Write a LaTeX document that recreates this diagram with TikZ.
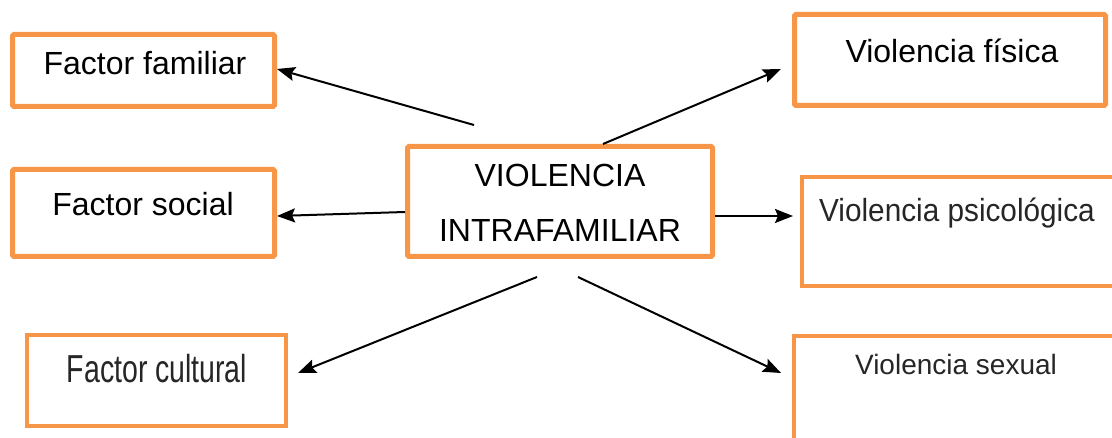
\documentclass[tikz,border=0pt]{standalone}
\usepackage{fontspec}
\setmainfont{Liberation Sans}
\usetikzlibrary{arrows.meta,calc}
\definecolor{boxorange}{RGB}{247,150,70}
\tikzset{
  box/.style={draw=boxorange, line width=5pt, rounded corners=1.5pt, inner sep=0pt},
  thinbox/.style={draw=boxorange, line width=4pt, inner sep=0pt},
  txt/.style={anchor=base, inner sep=0pt, font=\fontsize{32}{38}\selectfont},
  arr/.style={line width=2pt, -{Stealth[length=18pt,width=14pt,inset=3pt]}}
}
\begin{document}
\begin{tikzpicture}[x=1pt, y=-1pt]
        \useasboundingbox (0,0) rectangle (1112,438);
        \clip (0,0) rectangle (1112,438);
        % boxes
        \node (familiar) at (143.5,70.5) [box, minimum width=262pt, minimum height=72pt] {};
        \node (social) at (143.5,213) [box, minimum width=262pt, minimum height=87pt] {};
        \node (central) at (560,201.5) [box, minimum width=305pt, minimum height=110pt] {};
        \node (fisica) at (950,60) [box, minimum width=311pt, minimum height=91pt] {};
        \node (psico) at (960,231.5) [thinbox, minimum width=316pt, minimum height=109pt] {};
        \node (cultural) at (156.5,380.5) [thinbox, minimum width=259pt, minimum height=91pt] {};
        \node (sexual) at (956,389.5) [thinbox, minimum width=324pt, minimum height=107pt] {};
        % texts
        \node (tfamiliar) at (145,75) [txt] {Factor familiar};
        \node (tsocial) at (143,216) [txt] {Factor social};
        \node (tviolencia) at (560,187) [txt] {VIOLENCIA};
        \node (tintra) at (560,242) [txt] {INTRAFAMILIAR};
        \node (tfisica) at (952,63) [txt] {Violencia física};
        \node (tpsico) at (957,222) [txt, xscale=0.93, text=black!85] {Violencia psicológica};
        \node (tcultural) at (157,383) [txt, font=\fontsize{39}{44}\selectfont, xscale=0.73, text=black!85] {Factor cultural};
        \node (tsexual) at (956,375) [txt, font=\fontsize{28}{34}\selectfont, text=black!85] {Violencia sexual};
        % arrows
        \draw[arr] ($(central.north)+(-86,-19)$) -- ($(familiar.east)+(0,-1.5)$);
        \draw[arr] ($(central.north)+(43,0)$) -- ($(fisica.west)+(-11,9)$);
        \draw[arr] ($(central.west)+(0,10.5)$) -- ($(social.east)+(0,3)$);
        \draw[arr] ($(central.east)+(0,14.5)$) -- ($(psico.west)+(-7,-15.5)$);
        \draw[arr] ($(central.south)+(-23,18)$) -- ($(cultural.east)+(10,-7.5)$);
        \draw[arr] ($(central.south)+(18,18)$) -- ($(sexual.west)+(-11,-16.5)$);
    \end{tikzpicture}
\end{document}
